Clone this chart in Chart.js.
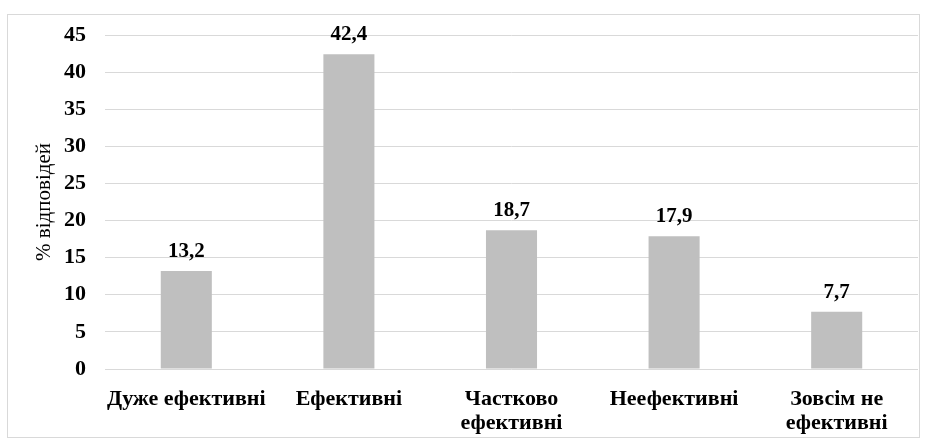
<!DOCTYPE html>
<html>
<head>
<meta charset="utf-8">
<script src="https://cdn.jsdelivr.net/npm/chart.js@4"></script>
<style>
  html, body { margin: 0; padding: 0; background: #ffffff; }
  #wrap { width: 926px; height: 441px; position: relative; }
</style>
</head>
<body>
<div id="wrap"><canvas id="chart" width="926" height="441"></canvas></div>
<script>
// Share of responses by assessed effectiveness
const categories = [
  "Дуже ефективні",
  "Ефективні",
  ["Частково", "ефективні"],
  "Неефективні",
  ["Зовсім не", "ефективні"]
];
const responseShare = [13.2, 42.4, 18.7, 17.9, 7.7];
const yTicks = [0, 5, 10, 15, 20, 25, 30, 35, 40, 45];
const yTitle = "% відповідей";

const SERIF = "'Liberation Serif', 'Times New Roman', serif";

// Outer frame around the whole chart
const framePlugin = {
  id: "frame",
  beforeDraw(chart) {
    const ctx = chart.ctx;
    ctx.save();
    ctx.fillStyle = "#ffffff";
    ctx.fillRect(0, 0, chart.width, chart.height);
    ctx.strokeStyle = "#d9d9d9";
    ctx.lineWidth = 1;
    ctx.strokeRect(7.5, 14.5, 912, 423);
    ctx.restore();
  }
};

// Value labels above each bar, in the local decimal-comma style
const valueLabels = {
  id: "valueLabels",
  afterDatasetsDraw(chart) {
    const ctx = chart.ctx;
    const meta = chart.getDatasetMeta(0);
    ctx.save();
    ctx.font = "bold 21px " + SERIF;
    ctx.fillStyle = "#000000";
    ctx.textAlign = "center";
    ctx.textBaseline = "alphabetic";
    meta.data.forEach((bar, i) => {
      const txt = responseShare[i].toFixed(1).replace(".", ",");
      ctx.fillText(txt, bar.x, bar.y - 14);
    });
    ctx.restore();
  }
};

new Chart(document.getElementById("chart"), {
  type: "bar",
  data: {
    labels: categories,
    datasets: [{
      data: responseShare,
      backgroundColor: "#bfbfbf",
      borderWidth: 0,
      categoryPercentage: 1.0,
      barPercentage: 0.314
    }]
  },
  options: {
    responsive: false,
    animation: false,
    devicePixelRatio: 1,
    layout: { padding: { left: 0, top: 35, right: 8, bottom: 0 } },
    plugins: {
      legend: { display: false },
      tooltip: { enabled: false }
    },
    scales: {
      x: {
        grid: { display: false, drawTicks: false },
        border: { display: false },
        ticks: {
          color: "#000000",
          padding: 18,
          maxRotation: 0,
          autoSkip: false,
          font: { family: SERIF, size: 22, weight: "bold", lineHeight: 1.1 }
        },
        afterFit(scale) { scale.height = 72; }
      },
      y: {
        min: 0,
        max: 45,
        afterBuildTicks(scale) { scale.ticks = yTicks.map(v => ({ value: v })); },
        grid: { color: "#d9d9d9", lineWidth: 1, drawTicks: false },
        border: { display: false },
        ticks: {
          color: "#000000",
          padding: 19,
          font: { family: SERIF, size: 22, weight: "bold" }
        },
        title: {
          display: true,
          text: yTitle,
          color: "#000000",
          padding: { top: 32, bottom: 0 },
          font: { family: SERIF, size: 21 }
        },
        afterFit(scale) { scale.width = 105; }
      }
    }
  },
  plugins: [framePlugin, valueLabels]
});
</script>
</body>
</html>
